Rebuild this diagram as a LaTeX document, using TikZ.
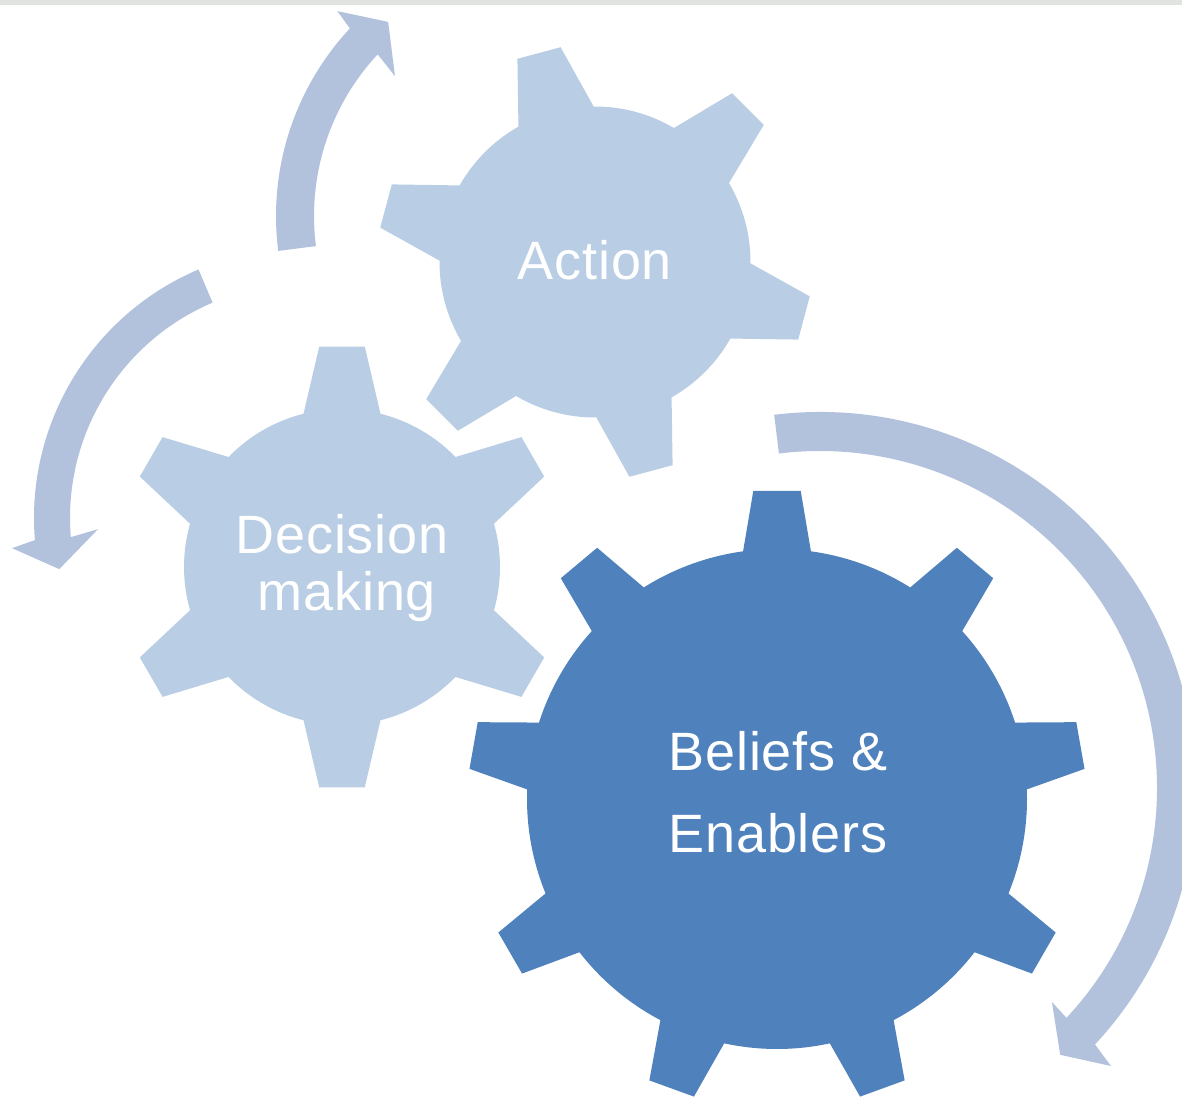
\documentclass[tikz,border=0pt]{standalone}
\usepackage{fontspec}
\newfontfamily\gearfont[LetterSpace=1.5]{Liberation Sans}
\definecolor{gearlight}{HTML}{B9CDE5}
\definecolor{gearmain}{HTML}{4F81BD}
\definecolor{arrowc}{HTML}{B2C2DD}
\definecolor{topbar}{HTML}{E1E3E1}
% n teeth, first tooth angle, body radius, tip radius, base half-angle, tip half-angle
\newcommand{\gearpath}[6]{%
  ({#2-#5}:#3)
  \foreach \i in {1,...,#1} {
    -- ({#2+(\i-1)*360/#1-#6}:#4)
    -- ({#2+(\i-1)*360/#1+#6}:#4)
    -- ({#2+(\i-1)*360/#1+#5}:#3)
    arc[start angle={#2+(\i-1)*360/#1+#5}, end angle={#2+\i*360/#1-#5}, radius=#3]
  } -- cycle}
\tikzset{
  gtext/.style={text=white, font=\gearfont\fontsize{54}{56}\selectfont, inner sep=0pt, anchor=base},
  cyclearrow/.style={fill=arrowc},
}
\begin{document}
\begin{tikzpicture}[x=1pt,y=1pt]
\useasboundingbox (0,0) rectangle (1182,1096);
\fill[white] (0,0) rectangle (1182,1096);
\fill[topbar] (0,1091) rectangle (1182,1096);

% circular arrows
\fill[cyclearrow, shift={(551,880)}]
  (187.3:275) arc[start angle=187.3, end angle=137, radius=275]
  -- (136.2:296) -- (130:253.4) -- (138.1:209.6) -- (137:237)
  arc[start angle=137, end angle=187.3, radius=237] -- cycle;
\fill[cyclearrow, shift={(304,578)}]
  (113:270) arc[start angle=113, end angle=184.7, radius=270]
  -- (185.9:293.5) -- (191.8:250) -- (183.1:206.3) -- (184.7:234)
  arc[start angle=184.7, end angle=113, radius=234] -- cycle;
\fill[cyclearrow, shift={(820,308)}]
  (97:376) arc[start angle=97, end angle=-43, radius=376]
  -- (-43.7:402.4) -- (-48:359) -- (-42.7:315.6) -- (-43:337)
  arc[start angle=-43, end angle=97, radius=337] -- cycle;

% gears
\fill[gearlight, shift={(595,834)}] \gearpath{6}{105}{155.5}{217.5}{14.5}{5.9};
\fill[gearlight, shift={(342,529)}] \gearpath{6}{90}{158}{221.5}{14.1}{5.9};
\fill[gearmain, shift={(777,297)}] \gearpath{9}{90}{250}{309}{7.8}{4.4};

% labels
\node[gtext] (action) at (595,816) {Action};
\node[gtext] (decision) at (342,542) {Decision};
\node[gtext] (making) at (347,486) {making};
\node[gtext] (beliefs) at (778,326) {Beliefs \&};
\node[gtext] (enablers) at (778,244) {Enablers};
\end{tikzpicture}
\end{document}
